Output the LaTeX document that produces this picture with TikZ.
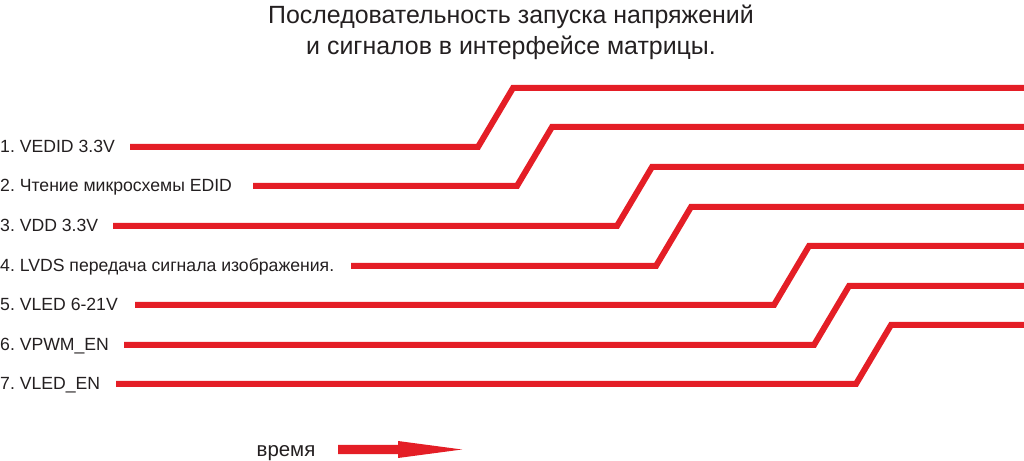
\documentclass[tikz,border=0pt]{standalone}
\usepackage{fontspec}
\setmainfont{Liberation Sans}
\definecolor{sigred}{RGB}{228,30,38}
\definecolor{txtgray}{RGB}{35,31,32}
\frenchspacing
\begin{document}
\begin{tikzpicture}[x=1bp,y=-1bp,
  lab/.style={anchor=base west, inner sep=0pt, font=\fontsize{17.7}{21}\selectfont, text=txtgray},
  ttl/.style={anchor=base, inner sep=0pt, font=\fontsize{25}{29}\selectfont, text=txtgray},
  sig/.style={draw=sigred, line width=6bp, line join=miter, line cap=butt},
]
\useasboundingbox (0,0) rectangle (1024,461);
% title
\node[ttl] (t1) at (511,24) {Последовательность запуска напряжений};
\node[ttl] (t2) at (511,55) {и сигналов в интерфейсе матрицы.};
% labels
\node[lab] (l1) at (0,153) {1. VEDID 3.3V};
\node[lab] (l2) at (0,192) {2. Чтение микросхемы EDID};
\node[lab] (l3) at (0,232) {3. VDD 3.3V};
\node[lab] (l4) at (0,272) {4. LVDS передача сигнала изображения.};
\node[lab] (l5) at (0,311) {5. VLED 6-21V};
\node[lab] (l6) at (0,351) {6. VPWM\_EN};
\node[lab] (l7) at (0,390) {7. VLED\_EN};
% signal start/end coordinates
\coordinate (s1) at (130,147); \coordinate (e1) at (1024,88);
\coordinate (s2) at (253,186); \coordinate (e2) at (1024,127);
\coordinate (s3) at (113,226); \coordinate (e3) at (1024,167);
\coordinate (s4) at (351,266); \coordinate (e4) at (1024,207);
\coordinate (s5) at (135,305); \coordinate (e5) at (1024,246);
\coordinate (s6) at (124,345); \coordinate (e6) at (1024,286);
\coordinate (s7) at (116,384); \coordinate (e7) at (1024,325);
% signals
\draw[sig] (s1) -- (478,147) -- (513,88) -- (e1);
\draw[sig] (s2) -- (517,186) -- (552,127) -- (e2);
\draw[sig] (s3) -- (617,226) -- (652,167) -- (e3);
\draw[sig] (s4) -- (656,266) -- (691,207) -- (e4);
\draw[sig] (s5) -- (774,305) -- (809,246) -- (e5);
\draw[sig] (s6) -- (814,345) -- (849,286) -- (e6);
\draw[sig] (s7) -- (856,384) -- (891,325) -- (e7);
% time arrow
\node[lab, anchor=base, font=\fontsize{20.5}{24}\selectfont] (tm) at (286,456) {время};
\fill[sigred] (338,445) -- (398,445) -- (398,441) -- (462,449.5) -- (398,458) -- (398,454) -- (338,454) -- cycle;
\end{tikzpicture}
\end{document}
